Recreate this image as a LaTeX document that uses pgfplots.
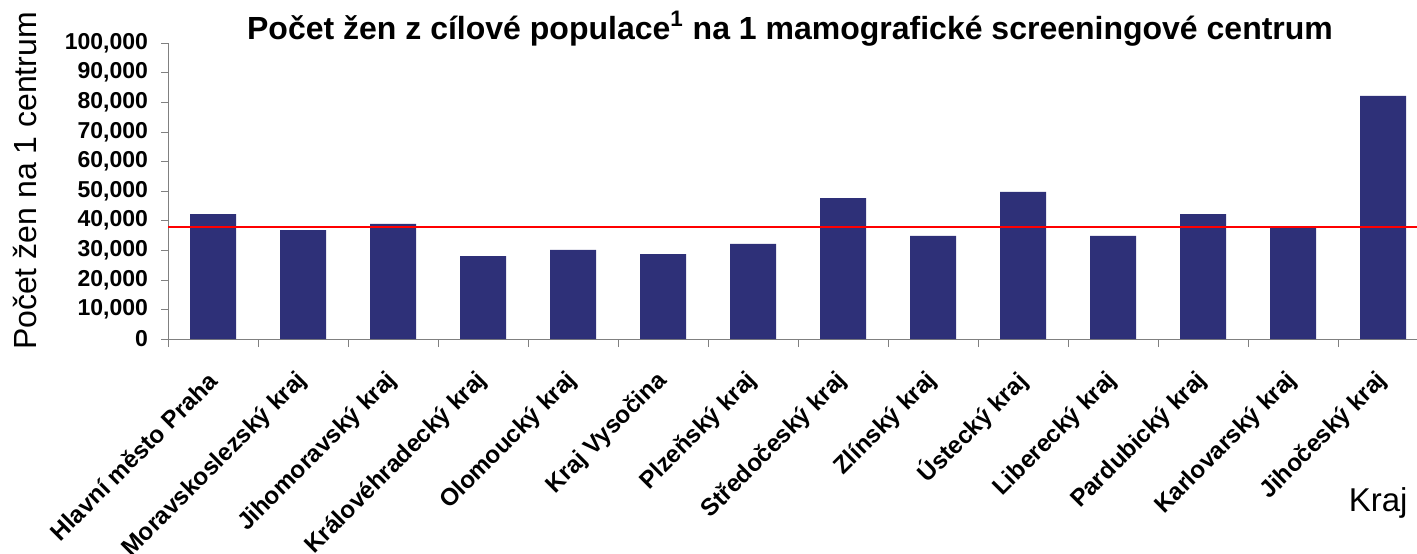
\documentclass[border=0pt]{standalone}
\usepackage{pgfplots}
\pgfplotsset{compat=1.18}
\usepackage{fontspec}
\setmainfont{Liberation Sans}
\definecolor{barblue}{RGB}{46,48,120}
\begin{document}
\begin{tikzpicture}
\path[use as bounding box] (0,0) rectangle (708.5pt,276.5pt);
\begin{axis}[
  at={(84pt,107pt)}, anchor=south west,
  scale only axis, width=630pt, height=148pt,
  xmin=-0.5, xmax=13.5, ymin=0, ymax=100000,
  axis x line*=bottom, axis y line*=left,
  axis line style={draw=gray, -},
  tick align=outside,
  major tick length=3.5pt, minor tick length=4pt,
  ytick={0,10000,20000,30000,40000,50000,60000,70000,80000,90000,100000},
  yticklabels={0,{10,000},{20,000},{30,000},{40,000},{50,000},{60,000},{70,000},{80,000},{90,000},{100,000}},
  ytick style={draw=gray},
  major x tick style={draw=none},
  minor x tick style={draw=gray},
  xtick={0,...,13},
  minor xtick={-0.5,0.5,...,13.5},
  xticklabels={Hlavní město Praha, Moravskoslezský kraj, Jihomoravský kraj, Královéhradecký kraj, Olomoucký kraj, Kraj Vysočina, Plzeňský kraj, Středočeský kraj, Zlínský kraj, Ústecký kraj, Liberecký kraj, Pardubický kraj, Karlovarský kraj, Jihočeský kraj},
  xticklabel style={font=\bfseries\fontsize{12.1}{14}\selectfont, xshift=2.5pt, yshift=-13pt, rotate=45, anchor=east},
  yticklabel style={font=\bfseries\fontsize{11.5}{13}\selectfont, xshift=-3pt},
  scaled y ticks=false,
  ylabel={Počet žen na 1 centrum},
  ylabel style={font=\fontsize{16}{18}\selectfont, at={(axis description cs:-0.104,0.534)}, anchor=base, inner sep=0pt},
  xlabel={Kraj},
  xlabel style={font=\fontsize{16.5}{18}\selectfont, at={(axis description cs:0.984,-0.584)}, anchor=base east, inner sep=0pt},
  title={Počet žen z cílové populace\textsuperscript{1} na 1 mamografické screeningové centrum},
  title style={font=\bfseries\fontsize{16}{18}\selectfont, at={(axis description cs:0.4937,1.0135)}, anchor=base, yshift=-6pt, inner sep=0pt},
  clip=false,
]
\addplot[ybar, bar width=23pt, fill=barblue, draw=none] coordinates {
  (0,42200) (1,36800) (2,38900) (3,28000) (4,30100) (5,28700) (6,32100)
  (7,47600) (8,34800) (9,49700) (10,34800) (11,42200) (12,37500) (13,82100)
};
\addplot[red, line width=1.3pt] coordinates {(-0.5,37800) (13.5,37800)};
\end{axis}
\end{tikzpicture}
\end{document}
